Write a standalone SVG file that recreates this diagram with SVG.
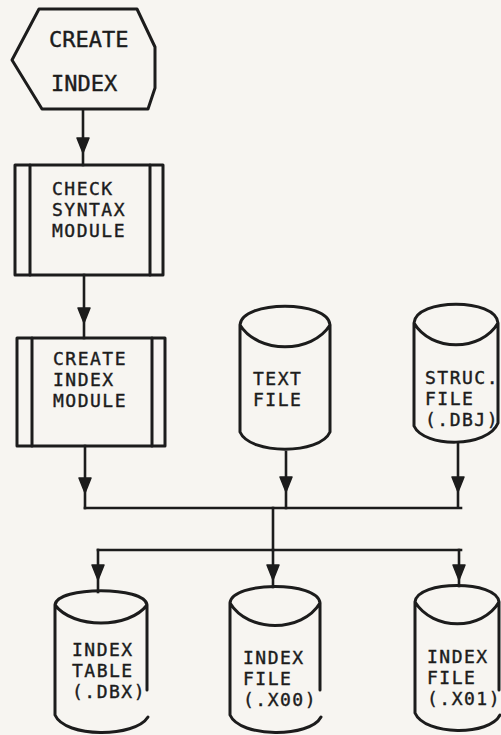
<svg xmlns="http://www.w3.org/2000/svg" width="501" height="735" viewBox="0 0 501 735">
<defs>
<style>
.bg{fill:#f7f5f1}
.sh{fill:none;stroke:#1c1c1c;stroke-width:3;stroke-linejoin:round;stroke-linecap:round}
.ln{fill:none;stroke:#1c1c1c;stroke-width:2.6;stroke-linecap:square}
.ah{fill:#1c1c1c;stroke:#1c1c1c;stroke-width:1.5;stroke-linejoin:round}
.t{font-family:"DejaVu Sans Mono","Liberation Mono",monospace;font-size:18px;letter-spacing:1.5px;fill:#1c1c1c;stroke:#1c1c1c;stroke-width:0.4}
.h{font-size:22px;letter-spacing:0px}
</style>
<path id="ah" d="M-6,0 L6,0 L0,15 Z"/>
</defs>
<rect class="bg" x="0" y="0" width="501" height="735"/>

<g id="connectors">
<path class="ln" d="M83,110 V165"/>
<use href="#ah" class="ah" x="83" y="138"/>
<path class="ln" d="M84,275 V338"/>
<use href="#ah" class="ah" x="84" y="308"/>
<path class="ln" d="M85,446 V508"/>
<use href="#ah" class="ah" x="85" y="478"/>
<path class="ln" d="M286,452 V508"/>
<use href="#ah" class="ah" x="286" y="477"/>
<path class="ln" d="M458,443 V507"/>
<use href="#ah" class="ah" x="458" y="477"/>
<path class="ln" d="M85,508 H461"/>
<path class="ln" d="M273,508 V550"/>
<path class="ln" d="M98,550 H461"/>
<path class="ln" d="M98,550 V592"/>
<use href="#ah" class="ah" x="98" y="565"/>
<path class="ln" d="M273,550 V587"/>
<use href="#ah" class="ah" x="273" y="565"/>
<path class="ln" d="M459,550 V586"/>
<use href="#ah" class="ah" x="459" y="565"/>
</g>

<g id="create-index">
<path class="sh" d="M39,9 H137 L155,47 V88 L148,109 H42 L12,60 Z"/>
<text class="t h" x="49" y="47">CREATE</text>
<text class="t h" x="51" y="91">INDEX</text>
</g>

<g id="check-syntax-module">
<rect class="sh" x="15" y="165" width="148" height="110"/>
<path class="sh" d="M30,165 V275 M150,165 V275"/>
<text class="t" x="52" y="195">CHECK</text>
<text class="t" x="52" y="216">SYNTAX</text>
<text class="t" x="52" y="237">MODULE</text>
</g>

<g id="create-index-module">
<rect class="sh" x="17" y="338" width="148" height="108"/>
<path class="sh" d="M32,338 V446 M152,338 V446"/>
<text class="t" x="53" y="365">CREATE</text>
<text class="t" x="53" y="386">INDEX</text>
<text class="t" x="53" y="407">MODULE</text>
</g>

<g id="text-file">
<path class="sh" d="M240,325 C242,300 328,300 330,325 M240,325 C258,354 312,354 330,325 M240,325 V432 C250,455 320,455 330,432 V325"/>
<text class="t" x="253" y="385">TEXT</text>
<text class="t" x="253" y="406">FILE</text>
</g>

<g id="struc-file">
<path class="sh" d="M414,323 C416,298 496,298 498,323 M414,323 C431,352 481,352 498,323 M414,323 V426 C424,448 488,448 498,423 V323"/>
<text class="t" x="425" y="384">STRUC.</text>
<text class="t" x="425" y="405">FILE</text>
<text class="t" x="425" y="426">(.DBJ)</text>
</g>

<g id="index-table">
<path class="sh" d="M55,605 C57,586 145,586 147,605 M55,605 C73,629 129,629 147,605 M147,605 V690 M55,605 V715 C65,738 135,738 148,717"/>
<text class="t" x="72" y="656">INDEX</text>
<text class="t" x="72" y="677">TABLE</text>
<text class="t" x="72" y="698">(.DBX)</text>
</g>

<g id="index-file-x00">
<path class="sh" d="M230,603 C232,581 318,581 320,603 M230,603 C248,633 302,633 320,603 M320,603 V690 M230,603 V715 C240,738 310,738 321,717"/>
<text class="t" x="243" y="664">INDEX</text>
<text class="t" x="243" y="685">FILE</text>
<text class="t" x="243" y="706">(.X00)</text>
</g>

<g id="index-file-x01">
<path class="sh" d="M415,602 C417,580 497,580 499,602 M415,602 C433,631 482,631 499,602 M499,602 V690 M415,602 V713 C425,736 490,736 500,715"/>
<text class="t" x="427" y="663">INDEX</text>
<text class="t" x="427" y="684">FILE</text>
<text class="t" x="427" y="705">(.X01)</text>
</g>
</svg>
